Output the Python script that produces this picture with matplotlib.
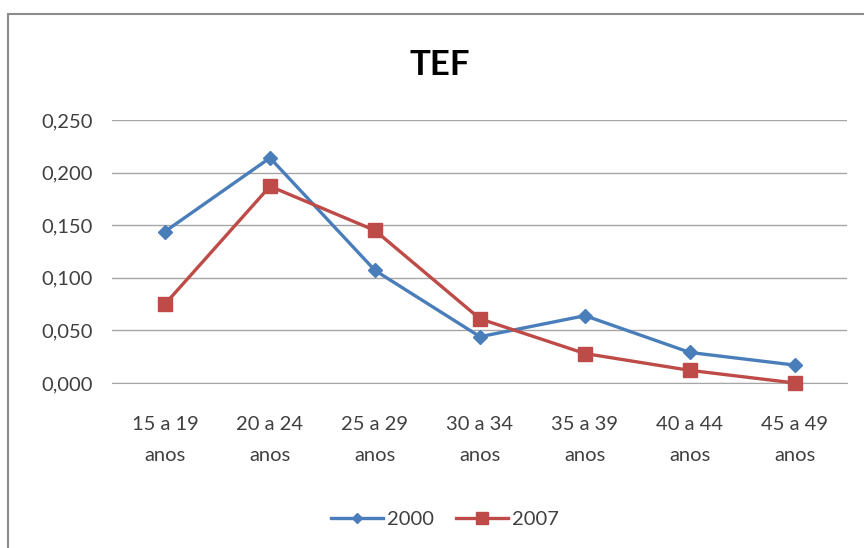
import matplotlib.pyplot as plt
from matplotlib.patches import Rectangle
from matplotlib.ticker import FuncFormatter

plt.rcParams['font.family'] = ['Lato', 'DejaVu Sans']

# dados
categorias = ["15 a 19\nanos", "20 a 24\nanos", "25 a 29\nanos", "30 a 34\nanos",
              "35 a 39\nanos", "40 a 44\nanos", "45 a 49\nanos"]
tef_2000 = [0.144, 0.214, 0.107, 0.044, 0.064, 0.029, 0.017]
tef_2007 = [0.075, 0.187, 0.145, 0.061, 0.028, 0.012, 0.000]
y_ticks = [0.0, 0.05, 0.10, 0.15, 0.20, 0.25]

fig = plt.figure(figsize=(8.64, 5.48), dpi=100)
ax = fig.add_axes([0.1302, 0.3011, 0.8507, 0.4799])

# moldura do grafico
fig.patches.append(Rectangle((8 / 864, -0.1), 1.2, 1 - 14 / 548 + 0.1,
                             transform=fig.transFigure, fill=False,
                             edgecolor='#8c8c8c', lw=1.5))

x = range(len(categorias))
ax.plot(x, tef_2000, color='#4a7ebb', lw=2.4, marker='D', ms=7,
        label='2000', clip_on=False, zorder=3)
ax.plot(x, tef_2007, color='#be4b48', lw=2.4, marker='s', ms=10,
        label='2007', clip_on=False, zorder=3)

ax.set_xlim(-0.5, len(categorias) - 0.5)
ax.set_ylim(0, 0.25)
ax.set_yticks(y_ticks)
ax.yaxis.set_major_formatter(FuncFormatter(lambda v, p: f"{v:.3f}".replace('.', ',')))
ax.set_xticks(list(x))
ax.set_xticklabels(categorias, linespacing=1.95)
ax.grid(axis='y', color='#a6a6a6', lw=1)
ax.set_axisbelow(True)
for s in ['top', 'right', 'left']:
    ax.spines[s].set_visible(False)
ax.spines['bottom'].set_color('#a6a6a6')
ax.tick_params(axis='both', length=0, labelsize=14.5, colors='#404040')
ax.tick_params(axis='x', pad=24)
ax.tick_params(axis='y', pad=14)

fig.text(0.509, 0.881, 'TEF', ha='center', va='center', fontsize=25,
         fontweight='bold', color='black')

ax.legend(loc='center', bbox_to_anchor=(0.515, 1 - 519 / 548), bbox_transform=fig.transFigure,
          ncol=2, frameon=False, fontsize=14.5, handlelength=2.6, columnspacing=1.1,
          handletextpad=0.2, markerscale=0.8, labelcolor='#404040')

fig.savefig('out.png', dpi=100, facecolor='white')
